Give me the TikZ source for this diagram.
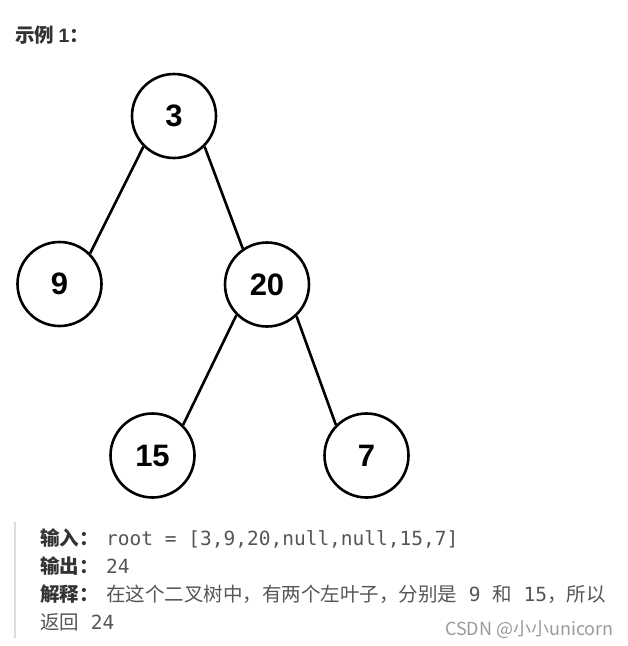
\documentclass[tikz,border=0pt]{standalone}
\usepackage{fontspec}
\setmainfont{Liberation Sans}
\newfontfamily\cjk{Noto Sans CJK SC}
\newfontfamily\monof{DejaVu Sans Mono}
\newfontfamily\numf{Liberation Sans}
\definecolor{txtgray}{HTML}{555555}
\definecolor{lblcol}{HTML}{333333}
\definecolor{barcol}{HTML}{DDDDDD}
\definecolor{wmcol}{HTML}{9A9A9A}
\begin{document}
\begin{tikzpicture}[x=1pt,y=-1pt,
  treenode/.style={circle,draw=black,line width=2.6pt,minimum size=84pt,inner sep=0pt,font=\numf\bfseries\fontsize{31}{31}\selectfont},
  edge/.style={line width=2.6pt},
  lbl/.style={anchor=base west,inner sep=0pt,text=lblcol,font=\cjk\bfseries\fontsize{19.5}{19.5}\selectfont},
  txt/.style={anchor=base west,inner sep=0pt,text=txtgray,font=\cjk\fontsize{19.5}{19.5}\selectfont}]
\useasboundingbox (0,0) rectangle (628,646);
\node[anchor=base west,inner sep=0pt,text=lblcol,font=\cjk\bfseries\fontsize{19.5}{19.5}\selectfont] (title) at (15,42) {示例 {\numf\bfseries 1}：};
\node[treenode] (n3) at (174,116) {3};
\node[treenode] (n9) at (59.5,284) {9};
\node[treenode] (n20) at (267,284.5) {20};
\node[treenode] (n15) at (152.5,455.5) {15};
\node[treenode] (n7) at (366.5,455.5) {7};
\draw[edge] (n3.225) -- (n9.45);
\draw[edge] (n3.-45) -- (n20.124);
\draw[edge] (n20.225) -- (n15.45);
\draw[edge] (n20.-47) -- (n7.135);
\coordinate (bt) at (15,522);
\coordinate (bb) at (15,638);
\draw[barcol,line width=2pt] (bt) -- (bb);
\node[lbl] (l1) at (40,545) {输入：};
\node[txt,font=\monof\fontsize{19.5}{19.5}\selectfont] (v1) at (106,545) {root = [3,9,20,null,null,15,7]};
\node[lbl] (l2) at (40,573) {输出：};
\node[txt,font=\monof\fontsize{19.5}{19.5}\selectfont] (v2) at (106,573) {24};
\node[lbl] (l3) at (40,601) {解释：};
\node[txt] (v3) at (106,601) {在这个二叉树中，有两个左叶子，分别是{\monof\ 9 }和{\monof\ 15}，所以};
\node[txt] (v4) at (40,629) {返回{\monof\ 24}};
\node[anchor=base east,inner sep=0pt,text=wmcol,font=\cjk\fontsize{18}{18}\selectfont] (wm) at (614,635) {CSDN @小小unicorn};
\end{tikzpicture}
\end{document}
